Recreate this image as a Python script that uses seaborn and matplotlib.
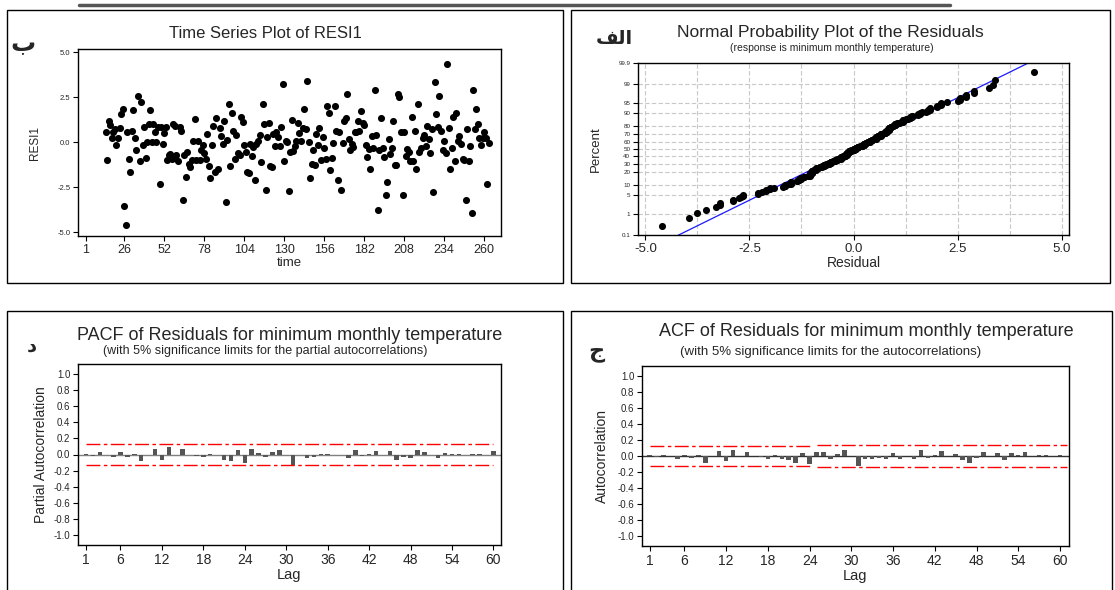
import numpy as np
import pandas as pd
import matplotlib
matplotlib.use("Agg")
import matplotlib.pyplot as plt
from matplotlib.patches import Rectangle
from matplotlib.lines import Line2D
import seaborn as sns
from statistics import NormalDist

# residuals (time 14 onwards)
resid = [
    0.55, -1.0, 1.2, 0.95, 0.25, 0.6, 0.75, -0.15, 0.25, 0.8,
    1.55, 1.85, -3.55, -4.6, 0.55, -0.9, -1.65, 0.65, 1.8, 0.25,
    -0.45, 2.55, -1.05, 2.25, -0.15, 0.85, -0.85, 0.0, 1.0, 1.8,
    0.0, 1.0, 0.55, 0.0, 0.85, -2.3, 0.85, -0.1, 0.5, 0.85,
    -1.0, -0.7, -0.65, -0.9, 1.0, 0.9, -0.7, -1.05, 0.85, 0.65,
    -3.2, -0.7, -1.9, -0.55, -1.2, -1.35, -1.0, 0.05, 1.3, -1.0,
    0.05, -1.0, -0.4, -0.15, -0.6, -0.9, 0.45, -1.3, -2.0, -0.15,
    0.9, -1.65, 1.35, -1.5, 0.8, 0.35, -0.1, 1.2, -3.3, 0.15,
    2.1, -1.3, 1.65, 0.65, -0.9, 0.4, -0.6, -0.7, 1.4, 1.15,
    -0.15, -0.55, -1.65, -1.7, -0.1, -0.75, -0.25, -2.1, -0.1, 0.1,
    0.4, -1.1, 2.1, 1.0, -2.65, 0.3, 1.05, -1.3, -1.35, 0.45,
    -0.2, 0.6, 0.3, -0.2, 0.85, 3.25, -1.05, 0.1, 0.0, -2.7,
    -0.55, 1.25, -0.5, -0.2, 0.1, 1.1, 0.5, 0.1, 0.8, 1.85,
    0.75, 3.4, 0.0, -2.0, -1.2, -0.4, -1.25, 0.45, -0.15, 0.8,
    -1.0, 0.3, -0.3, -0.95, 2.0, 1.6, -1.55, -0.85, -0.05, 2.0,
    0.65, -2.1, 0.6, -2.65, -0.05, 1.2, 1.35, 2.7, 0.2, -0.4,
    -0.1, -0.25, 0.55, 0.6, 1.2, 0.65, 1.75, 1.1, 0.95, -0.15,
    -0.8, -0.35, -1.5, 0.35, -0.3, 2.9, 0.4, -3.75, -0.45, 1.35,
    -0.3, -0.8, -2.9, -2.2, 0.2, -0.65, -0.3, 1.2, -1.25, -1.25,
    2.7, 2.5, 0.55, -2.9, 0.55, -0.75, -0.35, -0.55, -1.05, 1.4,
    -1.05, 0.65, -1.5, 2.1, -0.55, -0.3, 0.25, 0.4, -0.2, 0.9,
    0.2, -0.6, 0.75, -2.75, 3.35, 1.55, 0.85, 2.55, 0.65, -0.45,
    0.05, -0.6, 4.35, 0.8, -1.5, -0.3, 1.4, -1.05, 1.6, 0.05,
    0.35, -0.1, -0.95, -1.0, -3.2, 0.75, -1.05, -0.2, -3.95, 2.9,
    0.75, 1.85, 1.0, 0.25, -0.15, 0.25, 0.55, 0.25, -2.3, -0.05,
]
t_start = 14
time_ticks = [1, 26, 52, 78, 104, 130, 156, 182, 208, 234, 260]
resid_ticks = [-5.0, -2.5, 0.0, 2.5, 5.0]

pct_ticks = [0.1, 1, 5, 10, 20, 30, 40, 50, 60, 70, 80, 90, 95, 99, 99.9]
pct_labels = ["0.1", "1", "5", "10", "20", "30", "40", "50", "60", "70",
              "80", "90", "95", "99", "99.9"]
residual_ticks = [-5.0, -2.5, 0.0, 2.5, 5.0]
# fitted normal reference line
line_mean = 0.0
line_sd = 1.36

lags = list(range(1, 61))
lag_ticks = [1, 6, 12, 18, 24, 30, 36, 42, 48, 54, 60]
corr_ticks = [-1.0, -0.8, -0.6, -0.4, -0.2, 0.0, 0.2, 0.4, 0.6, 0.8, 1.0]

pacf_vals = [
    0.01, -0.02, 0.03, -0.01, -0.03, 0.03, -0.03, 0.01, -0.085, 0.0,
    0.065, -0.07, 0.09, -0.01, 0.065, -0.01, -0.02, -0.035, 0.01, -0.01,
    -0.07, -0.08, 0.05, -0.11, 0.07, 0.02, -0.03, 0.03, 0.06, 0.0,
    -0.13, 0.0, -0.04, -0.03, 0.01, 0.01, 0.0, -0.01, -0.04, 0.05,
    -0.02, 0.01, 0.04, 0.0, 0.04, -0.07, -0.03, -0.04, 0.06, 0.03,
    0.0, -0.04, 0.02, 0.01, 0.01, -0.01, 0.01, 0.01, -0.01, 0.04,
]
acf_vals = [
    0.02, -0.01, 0.02, 0.0, -0.03, 0.02, -0.02, 0.01, -0.08, 0.0,
    0.07, -0.06, 0.08, 0.0, 0.05, 0.0, -0.01, -0.04, 0.02, -0.03,
    -0.05, -0.08, 0.045, -0.1, 0.05, 0.05, -0.03, 0.03, 0.08, 0.0,
    -0.12, -0.03, -0.03, -0.02, -0.04, 0.04, -0.03, 0.0, -0.03, 0.08,
    -0.02, 0.02, 0.07, 0.0, 0.03, -0.05, -0.08, -0.02, 0.05, 0.0,
    0.04, -0.05, 0.04, 0.02, 0.05, 0.0, 0.01, 0.01, 0.0, 0.02,
]
pacf_limit = 0.128
acf_limit_early = 0.127   # lags 1-24
acf_limit_late = 0.137    # lags 25-60

sns.set_style("ticks")
plt.rcParams["font.family"] = ["Liberation Sans", "DejaVu Sans"]
plt.rcParams["xtick.direction"] = "out"
plt.rcParams["ytick.direction"] = "out"

W, H = 1115, 590
fig = plt.figure(figsize=(W / 100, H / 100), dpi=100)


def rect(l, t, r, b):
    return [l / W, 1 - b / H, (r - l) / W, (b - t) / H]


def ftext(x, y, s, **kw):
    fig.text(x / W, 1 - y / H, s, ha=kw.pop("ha", "center"), va=kw.pop("va", "center"), **kw)


def style_axes(ax):
    for sp in ax.spines.values():
        sp.set_visible(True)
        sp.set_color("black")
        sp.set_linewidth(1.0)
    ax.tick_params(length=3.5, width=0.8, color="black", pad=2)


dash_dot = (0, (10, 2.5, 2.5, 2.5))

# panel frames and top bar
for l, t, r, b in [(7, 10, 563, 283), (571, 10, 1110, 283), (7, 311, 563, 600), (571, 311, 1112, 600)]:
    fig.add_artist(Rectangle((l / W, 1 - b / H), (r - l) / W, (b - t) / H,
                             transform=fig.transFigure, fill=False, lw=1.0, ec="black"))
fig.add_artist(Line2D([79 / W, 950 / W], [1 - 4.5 / H] * 2, transform=fig.transFigure,
                      color="#555555", lw=2.5))

# ---- time series plot
ax1 = fig.add_axes(rect(78, 49, 501, 236))
ts = pd.DataFrame({"time": np.arange(t_start, t_start + len(resid)), "RESI1": resid})
sns.scatterplot(data=ts, x="time", y="RESI1", ax=ax1, color="black", s=26, linewidth=0)
ax1.set_xlim(-4, 271)
ax1.set_ylim(-5.2, 5.18)
ax1.set_xticks(time_ticks)
ax1.set_xticklabels([str(v) for v in time_ticks], fontsize=9)
ax1.set_yticks(resid_ticks)
ax1.set_yticklabels([f"{v:.1f}" for v in resid_ticks], fontsize=5.5)
ax1.set_xlabel("time", fontsize=9.5, labelpad=1)
ax1.set_ylabel("RESI1", fontsize=8.5, labelpad=12)
style_axes(ax1)
ftext(265, 34, "Time Series Plot of RESI1", fontsize=12)

# ---- normal probability plot
ax2 = fig.add_axes(rect(638, 63, 1069, 235))
nd = NormalDist()
n = len(resid)
prob = pd.DataFrame({
    "Residual": np.sort(resid),
    "z": [nd.inv_cdf((i - 0.3) / (n + 0.4)) for i in range(1, n + 1)],
})
ax2.set_xticks(np.arange(-5, 5.01, 1.25), minor=True)
ax2.grid(True, which="both", ls=(0, (4, 2)), color="#c8c8c8", lw=0.8)
ax2.set_axisbelow(True)
line_x = np.array([-5.2, 5.2])
ax2.plot(line_x, (line_x - line_mean) / line_sd, color="#1a1aff", lw=0.9)
sns.scatterplot(data=prob, x="Residual", y="z", ax=ax2, color="black", s=26, linewidth=0, zorder=3)
zlim = nd.inv_cdf(0.999)
ax2.set_xlim(-5.18, 5.18)
ax2.set_ylim(-zlim, zlim)
ax2.set_yticks([nd.inv_cdf(p / 100) for p in pct_ticks])
ax2.set_yticklabels(pct_labels, fontsize=4.5)
ax2.set_xticks(residual_ticks)
ax2.set_xticklabels([f"{v:.1f}" for v in residual_ticks], fontsize=9.5)
ax2.tick_params(axis="x", which="minor", length=0)
ax2.set_xlabel("Residual", fontsize=10, labelpad=1)
ax2.set_ylabel("Percent", fontsize=9.5, labelpad=12)
style_axes(ax2)
ftext(830, 33, "Normal Probability Plot of the Residuals", fontsize=12.5)
ftext(832, 48, "(response is minimum monthly temperature)", fontsize=7.5)

# ---- PACF
ax3 = fig.add_axes(rect(78, 364, 501, 545))
ax3.bar(lags, pacf_vals, width=0.65, color="#555555", linewidth=0, zorder=2)
ax3.axhline(0, color="#808080", lw=1.0, zorder=1)
ax3.plot([1, 60], [pacf_limit] * 2, color="red", lw=1.0, ls=dash_dot)
ax3.plot([1, 60], [-pacf_limit] * 2, color="red", lw=1.0, ls=dash_dot)
ax3.set_xlim(-0.15, 61.1)
ax3.set_ylim(-1.12, 1.12)
ax3.set_xticks(lag_ticks)
ax3.set_xticklabels([str(v) for v in lag_ticks], fontsize=10)
ax3.set_yticks(corr_ticks)
ax3.set_yticklabels([f"{v:.1f}" for v in corr_ticks], fontsize=7)
ax3.set_xlabel("Lag", fontsize=10.5, labelpad=1)
ax3.set_ylabel("Partial Autocorrelation", fontsize=10, labelpad=4)
style_axes(ax3)
ftext(290, 335, "PACF of Residuals for minimum monthly temperature", fontsize=13)
ftext(265, 351, "(with 5% significance limits for the partial autocorrelations)", fontsize=9)

# ---- ACF
ax4 = fig.add_axes(rect(642, 366, 1069, 546))
ax4.bar(lags, acf_vals, width=0.65, color="#555555", linewidth=0, zorder=2)
ax4.axhline(0, color="#333333", lw=1.0, zorder=1)
for y in (acf_limit_early, -acf_limit_early):
    ax4.plot([1, 24.4], [y, y], color="red", lw=1.0, ls=dash_dot)
for y in (acf_limit_late, -acf_limit_late):
    ax4.plot([25, 61], [y, y], color="red", lw=1.0, ls=dash_dot)
ax4.set_xlim(-0.1, 61.3)
ax4.set_ylim(-1.12, 1.125)
ax4.set_xticks(lag_ticks)
ax4.set_xticklabels([str(v) for v in lag_ticks], fontsize=10)
ax4.set_yticks(corr_ticks)
ax4.set_yticklabels([f"{v:.1f}" for v in corr_ticks], fontsize=7)
ax4.set_xlabel("Lag", fontsize=10.5, labelpad=1)
ax4.set_ylabel("Autocorrelation", fontsize=10, labelpad=6)
style_axes(ax4)
ftext(866, 332, "ACF of Residuals for minimum monthly temperature", fontsize=13)
ftext(831, 352, "(with 5% significance limits for the autocorrelations)", fontsize=9.5)

# panel letters (Arabic)
ftext(23, 44, "ب", fontsize=18, fontweight="bold", family=["DejaVu Sans"])
ftext(614, 38, "\ufed2\ufedf\ufe8d", fontsize=14, fontweight="bold", family=["DejaVu Sans"])
ftext(32, 346, "د", fontsize=14, fontweight="bold", family=["DejaVu Sans"])
ftext(596, 352, "ج", fontsize=16, fontweight="bold", family=["DejaVu Sans"])

fig.savefig("out.png", dpi=100)
